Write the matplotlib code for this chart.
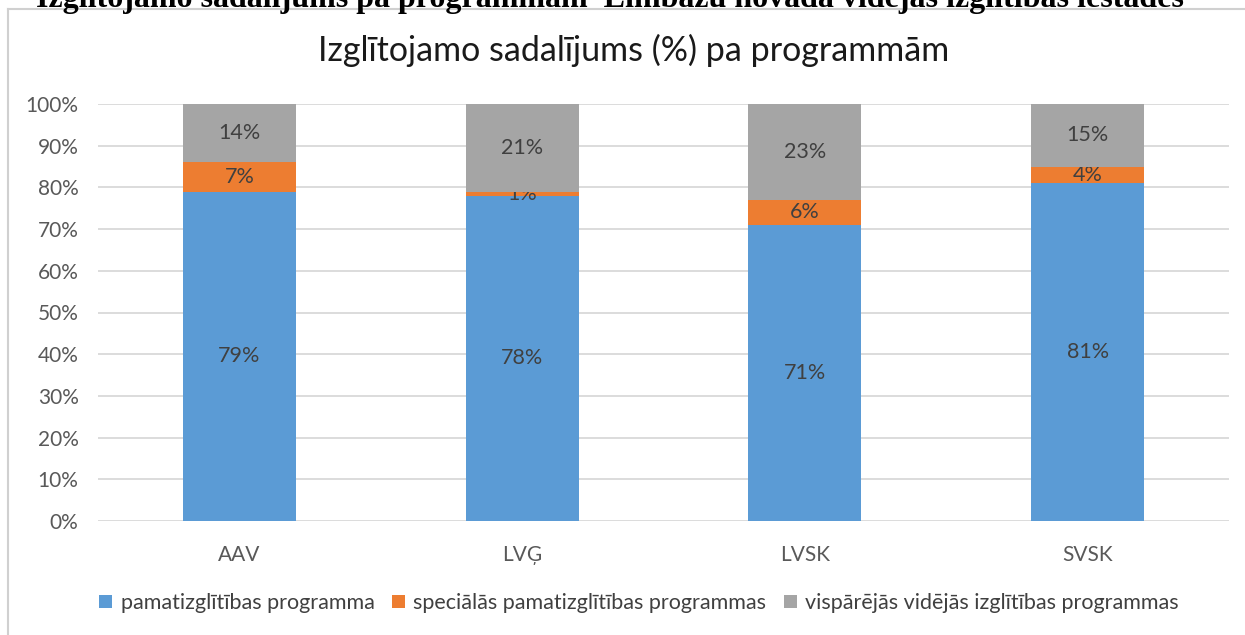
import matplotlib
matplotlib.use("Agg")
import matplotlib.pyplot as plt
from matplotlib.ticker import FuncFormatter, MultipleLocator
from matplotlib.lines import Line2D

categories = ["AAV", "LVĢ", "LVSK", "SVSK"]
pamat = [79, 78, 71, 81]
special = [7, 1, 6, 4]
vispar = [14, 21, 23, 15]
series_names = ["pamatizglītības programma",
                "speciālās pamatizglītības programmas",
                "vispārējās vidējās izglītības programmas"]
colors = ["#5B9BD5", "#ED7D31", "#A5A5A5"]
title = "Izglītojamo sadalījums (%) pa programmām"
header = "Izglītojamo sadalījums pa programmām  Limbažu novada vidējās izglītības iestādēs"

plt.rcParams['font.family'] = ['Lato', 'DejaVu Sans']

W, H = 1245, 635
fig = plt.figure(figsize=(W / 100, H / 100), dpi=100)
ax = fig.add_axes([98 / W, 1 - 521 / H, (1229 - 98) / W, 417 / H])

x = list(range(len(categories)))
bottoms2 = [a + b for a, b in zip(pamat, special)]
data = [(pamat, [0] * 4), (special, pamat), (vispar, bottoms2)]
for (vals, bot), c, name in zip(data, colors, series_names):
    bars = ax.bar(x, vals, 0.4, bottom=bot, color=c, label=name, zorder=3)
    ax.bar_label(bars, labels=[f"{v}%" for v in vals], label_type="center",
                 fontsize=15.5, color="#404040")

ax.set_xlim(-0.5, 3.5)
ax.set_ylim(0, 100)
ax.set_xticks(x)
ax.set_xticklabels(categories)
ax.yaxis.set_major_locator(MultipleLocator(10))
ax.yaxis.set_major_formatter(FuncFormatter(lambda v, p: f"{int(v)}%"))
ax.tick_params(axis="both", length=0, labelsize=15, colors="#595959")
ax.tick_params(axis="y", pad=14)
ax.tick_params(axis="x", pad=17)
ax.grid(axis="y", color="#D9D9D9", linewidth=1.3, zorder=0)
for s in ax.spines.values():
    s.set_visible(False)

fig.text(634 / W, 1 - 50 / H, title, ha="center", va="center",
         fontsize=24.5, color="#1a1a1a")

fig.text(610 / W, 1 - 7 / H, header, ha="center", va="baseline",
         fontsize=23, fontweight="bold", family="Liberation Serif", color="black")

# chart frame
fig.add_artist(Line2D([8 / W, 8 / W], [0, 1 - 9 / H], transform=fig.transFigure,
                      color="#D0D0D0", linewidth=1.5))
fig.add_artist(Line2D([8 / W, 1], [1 - 9 / H, 1 - 9 / H], transform=fig.transFigure,
                      color="#D0D0D0", linewidth=1.5))

handles, labels = ax.get_legend_handles_labels()
fig.legend(handles, labels, loc="center", bbox_to_anchor=(639 / W, 1 - 603 / H),
           ncol=3, frameon=False, fontsize=15.5, labelcolor="#404040",
           handlelength=0.6, handleheight=0.6, handletextpad=0.4, columnspacing=0.8)

fig.savefig("out.png", dpi=100)
